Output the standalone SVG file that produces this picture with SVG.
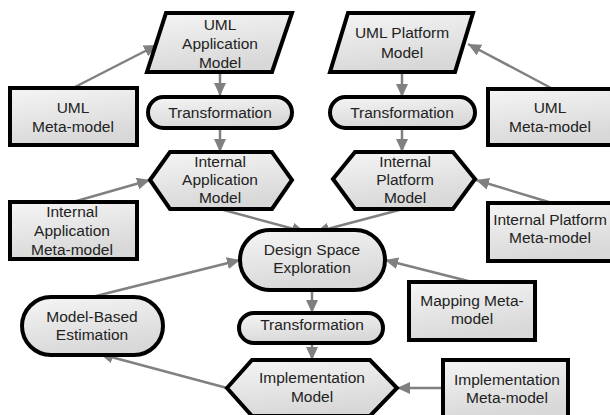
<svg xmlns="http://www.w3.org/2000/svg" width="610" height="415" viewBox="0 0 610 415">
<defs>
<linearGradient id="g" x1="0" y1="0" x2="0.3" y2="1">
<stop offset="0" stop-color="#f5f5f5"/>
<stop offset="1" stop-color="#d8d8d8"/>
</linearGradient>
<marker id="ah" markerUnits="userSpaceOnUse" markerWidth="14" markerHeight="12" refX="13" refY="6" orient="auto">
<path d="M0,0 L13,6 L0,12 Z" fill="#808080"/>
</marker>
</defs>
<style>
.n{fill:url(#g);stroke:#000;stroke-width:4;stroke-linejoin:miter}
.t{font-family:"Liberation Sans",Arial,sans-serif;font-size:15.5px;fill:#222;text-anchor:middle}
.c line{stroke:#808080;stroke-width:2.5;marker-end:url(#ah)}
</style>
<rect width="610" height="415" fill="#fff"/>
<g class="c" id="connectors">
<line x1="73" y1="88" x2="157" y2="45"/>
<line x1="220" y1="72" x2="220" y2="96"/>
<line x1="220" y1="128" x2="220" y2="152"/>
<line x1="73" y1="202" x2="150" y2="180"/>
<line x1="220" y1="209" x2="305" y2="232"/>
<line x1="403" y1="209" x2="316" y2="232"/>
<line x1="92" y1="297" x2="240" y2="260"/>
<line x1="472" y1="282" x2="385" y2="260"/>
<line x1="312" y1="290" x2="312" y2="313"/>
<line x1="312" y1="343" x2="312" y2="360"/>
<line x1="443" y1="388" x2="397" y2="388"/>
<line x1="227" y1="388" x2="100" y2="354"/>
<line x1="551" y1="88" x2="468" y2="44"/>
<line x1="402" y1="72" x2="402" y2="97"/>
<line x1="402" y1="128" x2="402" y2="152"/>
<line x1="552" y1="203" x2="476" y2="180"/>
</g>
<g id="uml-app-model">
<path class="n" d="M166,13 L292,13 L272,72 L147,72 Z"/>
<text class="t" x="220" y="30">UML</text>
<text class="t" x="220" y="49">Application</text>
<text class="t" x="220" y="68">Model</text>
</g>
<g id="uml-metamodel-left">
<rect class="n" x="10" y="88" width="127" height="57"/>
<text class="t" x="73" y="113">UML</text>
<text class="t" x="73" y="132">Meta-model</text>
</g>
<g id="transformation-left">
<rect class="n" x="148" y="97" width="144" height="31" rx="15.5"/>
<text class="t" x="220" y="118">Transformation</text>
</g>
<g id="internal-app-model">
<path class="n" d="M150,180 L170,152 L272,152 L292,180 L272,209 L170,209 Z"/>
<text class="t" x="220" y="167">Internal</text>
<text class="t" x="220" y="185">Application</text>
<text class="t" x="220" y="203">Model</text>
</g>
<g id="internal-app-metamodel">
<rect class="n" x="10" y="202" width="127" height="57"/>
<text class="t" x="72" y="217">Internal</text>
<text class="t" x="72" y="236">Application</text>
<text class="t" x="72" y="255">Meta-model</text>
</g>
<g id="uml-platform-model">
<path class="n" d="M348,13 L473,13 L455,72 L330,72 Z"/>
<text class="t" x="402" y="38">UML Platform</text>
<text class="t" x="402" y="58">Model</text>
</g>
<g id="uml-metamodel-right">
<rect class="n" x="488" y="89" width="130" height="56"/>
<text class="t" x="550" y="113">UML</text>
<text class="t" x="550" y="132">Meta-model</text>
</g>
<g id="transformation-right">
<rect class="n" x="330" y="97" width="145" height="31" rx="15.5"/>
<text class="t" x="402" y="118">Transformation</text>
</g>
<g id="internal-platform-model">
<path class="n" d="M333,179 L355,152 L453,152 L475,179 L453,209 L355,209 Z"/>
<text class="t" x="405" y="167">Internal</text>
<text class="t" x="405" y="185">Platform</text>
<text class="t" x="405" y="203">Model</text>
</g>
<g id="internal-platform-metamodel">
<rect class="n" x="488" y="203" width="130" height="58"/>
<text class="t" x="550" y="225">Internal Platform</text>
<text class="t" x="550" y="243">Meta-model</text>
</g>
<g id="dse">
<rect class="n" x="240" y="230" width="145" height="60" rx="30"/>
<text class="t" x="312" y="255">Design Space</text>
<text class="t" x="312" y="273">Exploration</text>
</g>
<g id="model-based-estimation">
<rect class="n" x="22" y="297" width="141" height="58" rx="29"/>
<text class="t" x="92" y="322">Model-Based</text>
<text class="t" x="92" y="340">Estimation</text>
</g>
<g id="transformation-center">
<rect class="n" x="239" y="313" width="144" height="30" rx="15"/>
<text class="t" x="312" y="330">Transformation</text>
</g>
<g id="mapping-metamodel">
<rect class="n" x="409" y="282" width="126" height="58"/>
<text class="t" x="472" y="306">Mapping Meta-</text>
<text class="t" x="472" y="324">model</text>
</g>
<g id="implementation-model">
<path class="n" d="M227,388 L252,360 L370,360 L397,388 L370,416 L252,416 Z"/>
<text class="t" x="312" y="383">Implementation</text>
<text class="t" x="312" y="402">Model</text>
</g>
<g id="implementation-metamodel">
<rect class="n" x="443" y="360" width="125" height="57"/>
<text class="t" x="507" y="385">Implementation</text>
<text class="t" x="507" y="403">Meta-model</text>
</g>
</svg>
